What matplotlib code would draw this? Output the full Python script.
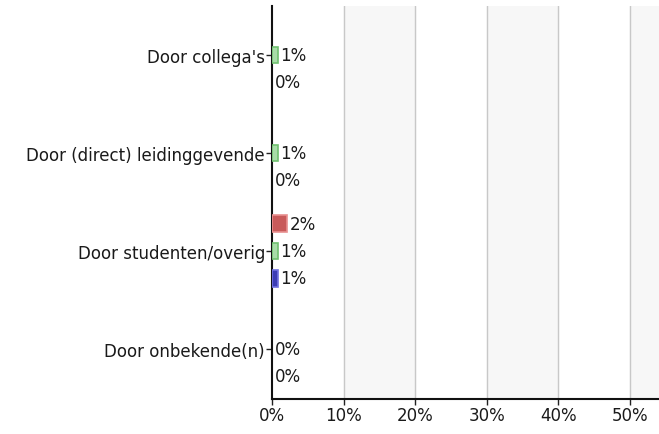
import numpy as np
import matplotlib.pyplot as plt

# Datos
categorias = ["Door collega's", "Door (direct) leidinggevende", "Door studenten/overig", "Door onbekende(n)"]
rood = [np.nan, np.nan, 2.1, np.nan]
groen = [0.8, 0.8, 0.8, 0.0]
blauw = [0.0, 0.0, 0.8, 0.0]
xticks = [0, 10, 20, 30, 40, 50]

fs = 12
fig = plt.figure(figsize=(6.59, 4.35), dpi=100)
ax = fig.add_axes([272 / 659, 1 - 400 / 435, 1 - 272 / 659, 393 / 435])

# Bandas alternas de fondo
for x0 in [10, 30, 50]:
    ax.axvspan(x0, x0 + 10, color='#f7f7f7', zorder=0)
for x in xticks[1:]:
    ax.axvline(x, color='#c8c8c8', lw=1, zorder=1)

y = np.arange(len(categorias))
desplaz = 0.28
alto = 0.17
series = [
    (rood, -desplaz, '#c85a5a', '#e89090'),
    (groen, 0, '#a8dca8', '#70c070'),
    (blauw, desplaz, '#3c3cb4', '#7070e0'),
]
for vals, off, fc, ec in series:
    for i, v in enumerate(vals):
        if np.isnan(v):
            continue
        if v > 0:
            ax.barh(y[i] + off, v, height=alto, color=fc, edgecolor=ec, lw=1.2, zorder=3)
        ax.text(v + 0.35, y[i] + off, f"{round(v)}%", va='center', ha='left',
                fontsize=fs, color='#1a1a1a', zorder=4)

ax.set_xlim(0, 54.1)
ax.set_ylim(3.51, -0.5)
ax.set_yticks(y)
ax.set_yticklabels(categorias, fontsize=fs, color='#1a1a1a')
ax.set_xticks(xticks)
ax.set_xticklabels([f"{x}%" for x in xticks], fontsize=fs, color='#1a1a1a')
ax.tick_params(axis='both', direction='out', length=4, width=1, color='#222222', pad=1)

for s in ['top', 'right']:
    ax.spines[s].set_visible(False)
for s in ['left', 'bottom']:
    ax.spines[s].set_linewidth(1.5)
    ax.spines[s].set_color('#111111')

fig.savefig('out.png', dpi=100)
